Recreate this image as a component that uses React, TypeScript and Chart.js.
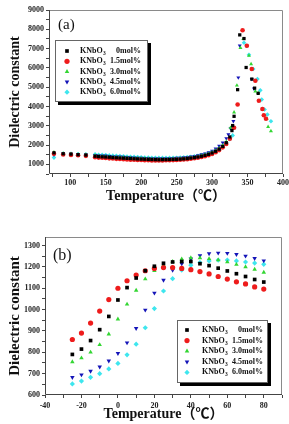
import React, { useEffect, useRef } from 'react';
import { Chart, registerables } from 'chart.js';
import { drawPoint } from 'chart.js/helpers';

Chart.register(...registerables);

const SERIF = '"Liberation Serif", "Times New Roman", serif';
const TITLE_FONT = '"Liberation Serif", "Noto Sans CJK SC", serif';

// Dopant levels, shared by both panels
const molLabels = ['0mol%', '1.5mol%', '3.0mol%', '4.5mol%', '6.0mol%'];
const seriesColors = ['#000000', '#ee1c1c', '#33d633', '#1414b8', '#3ee6ee'];
const seriesShapes = ['rect', 'circle', 'triangle', 'triangle', 'rectRot'];
const seriesRotation = [0, 0, 0, 180, 0];

// ---- Panel (a): 70–400 °C ----
const lowTemps = [
  77, 90, 101, 111, 122, 135, 140, 145, 150, 155, 160, 165, 170, 175, 180, 185, 190, 195, 200, 205, 210, 215,
  220, 225, 230, 235, 240, 245, 250, 255, 260, 265, 270, 275, 280, 285, 290, 295, 300, 305, 310, 315, 320,
];
const lowA0 = [
  1600, 1550, 1530, 1500, 1480, 1420, 1400, 1390, 1380, 1370, 1350, 1340, 1330, 1320, 1310, 1300, 1290, 1280,
  1270, 1265, 1255, 1250, 1245, 1240, 1245, 1245, 1250, 1255, 1260, 1270, 1285, 1300, 1325, 1350, 1380, 1420,
  1465, 1520, 1590, 1680, 1790, 1930, 2120,
];
const lowA1 = [
  1550, 1510, 1490, 1470, 1440, 1370, 1350, 1340, 1330, 1310, 1300, 1285, 1275, 1265, 1255, 1245, 1235, 1230,
  1225, 1215, 1210, 1205, 1205, 1205, 1205, 1210, 1215, 1220, 1230, 1240, 1255, 1270, 1290, 1315, 1345, 1380,
  1420, 1470, 1540, 1630, 1740, 1880, 2060,
];
const lowA2 = [
  1620, 1560, 1540, 1510, 1490, 1450, 1430, 1420, 1410, 1395, 1380, 1370, 1360, 1350, 1340, 1330, 1320, 1310,
  1300, 1295, 1285, 1280, 1275, 1270, 1270, 1275, 1280, 1285, 1290, 1300, 1315, 1330, 1350, 1380, 1410, 1450,
  1495, 1550, 1620, 1710, 1830, 1980, 2170,
];
const lowA3 = [
  1500, 1560, 1545, 1530, 1505, 1480, 1465, 1455, 1445, 1430, 1415, 1405, 1395, 1385, 1370, 1360, 1350, 1340,
  1335, 1325, 1320, 1315, 1310, 1305, 1305, 1310, 1315, 1320, 1330, 1340, 1355, 1375, 1400, 1430, 1465, 1510,
  1560, 1620, 1700, 1810, 1950, 2120, 2350,
];
const lowA4 = [
  1350, 1560, 1550, 1540, 1520, 1520, 1500, 1490, 1480, 1465, 1450, 1440, 1430, 1420, 1405, 1395, 1385, 1375,
  1365, 1355, 1350, 1345, 1340, 1335, 1335, 1335, 1335, 1340, 1345, 1350, 1360, 1375, 1395, 1415, 1445, 1480,
  1520, 1570, 1640, 1720, 1830, 1960, 2130,
];

// Transition region around the Curie peak
const peakTempsA0 = [325, 328, 329, 331, 336, 339, 345, 348, 356, 360, 365];
const peakValsA0 = [2420, 2750, 3010, 3490, 4870, 7710, 7520, 6020, 5420, 4950, 4680];
const peakTempsA1 = [325, 331, 336, 343, 349, 356, 361, 366, 371, 373, 376];
const peakValsA1 = [2330, 2900, 4100, 7950, 7150, 5940, 5330, 4300, 3870, 3545, 3360];
const peakTempsA2 = [326, 331, 335, 340, 344, 352, 355, 361, 365, 371, 377, 379, 383];
const peakValsA2 = [2900, 3700, 5090, 7040, 7500, 6640, 6200, 4780, 4700, 3870, 3360, 2945, 2720];
const peakTempsA3 = [323, 326, 330, 337, 339, 356, 359];
const peakValsA3 = [2550, 2860, 3235, 5500, 7155, 5420, 4920];
const peakTempsA4 = [325, 329, 331, 345, 349, 352, 358, 364, 368, 370, 374, 378, 383];
const peakValsA4 = [2300, 2500, 2900, 7300, 7140, 6675, 5940, 5420, 4835, 4355, 3840, 3580, 3235];

// ---- Panel (b): -25–80 °C ----
const tempsB = [-25, -20, -15, -10, -5, 0, 5, 10, 15, 20, 25, 30, 35, 40, 45, 50, 55, 60, 65, 70, 75, 80];
const valsB0 = [790, 815, 855, 906, 968, 1045, 1103, 1148, 1182, 1203, 1217, 1223, 1225, 1225, 1215, 1206, 1194, 1181, 1168, 1155, 1141, 1129];
const valsB1 = [860, 890, 937, 993, 1047, 1100, 1135, 1162, 1182, 1193, 1197, 1197, 1193, 1187, 1178, 1167, 1155, 1143, 1130, 1120, 1106, 1096];
const valsB2 = [755, 773, 800, 835, 885, 955, 1025, 1090, 1143, 1182, 1208, 1225, 1237, 1242, 1242, 1238, 1232, 1223, 1211, 1200, 1188, 1174];
const valsB3 = [683, 695, 712, 732, 760, 795, 845, 912, 998, 1078, 1138, 1185, 1215, 1238, 1253, 1262, 1265, 1264, 1259, 1251, 1240, 1229];
const valsB4 = [652, 665, 683, 700, 722, 748, 788, 838, 915, 1005, 1087, 1145, 1185, 1208, 1220, 1228, 1232, 1232, 1228, 1223, 1218, 1212];

type Pt = { x: number; y: number };
const pairs = (xs: number[], ys: number[]): Pt[] => xs.map((x, i) => ({ x, y: ys[i] }));

const seriesA: Pt[][] = [
  pairs(lowTemps, lowA0).concat(pairs(peakTempsA0, peakValsA0)),
  pairs(lowTemps, lowA1).concat(pairs(peakTempsA1, peakValsA1)),
  pairs(lowTemps, lowA2).concat(pairs(peakTempsA2, peakValsA2)),
  pairs(lowTemps, lowA3).concat(pairs(peakTempsA3, peakValsA3)),
  pairs(lowTemps, lowA4).concat(pairs(peakTempsA4, peakValsA4)),
];
const seriesB: Pt[][] = [valsB0, valsB1, valsB2, valsB3, valsB4].map((v) => pairs(tempsB, v));

// Frame, panel tag and boxed legend with drop shadow
const decorPlugin = {
  id: 'decor',
  afterDatasetsDraw(chart: any, _args: any, opts: any) {
    const { ctx, chartArea: a } = chart;
    ctx.save();
    ctx.lineWidth = 1;
    ctx.strokeStyle = '#8a8a8a';
    ctx.beginPath();
    ctx.moveTo(a.left, a.top + 0.5);
    ctx.lineTo(a.right - 0.5, a.top + 0.5);
    ctx.lineTo(a.right - 0.5, a.bottom);
    ctx.stroke();
    ctx.strokeStyle = '#444';
    ctx.beginPath();
    ctx.moveTo(a.left + 0.5, a.top);
    ctx.lineTo(a.left + 0.5, a.bottom - 0.5);
    ctx.lineTo(a.right, a.bottom - 0.5);
    ctx.stroke();

    // panel tag
    ctx.fillStyle = '#111';
    ctx.font = `${opts.tagSize}px ${SERIF}`;
    ctx.textAlign = 'left';
    ctx.textBaseline = 'middle';
    ctx.fillText(opts.tag, opts.tagX, opts.tagY);

    // legend
    const L = opts.legend;
    ctx.fillStyle = '#000';
    ctx.fillRect(L.x + 3, L.y + 3, L.w, L.h);
    ctx.fillStyle = '#fff';
    ctx.fillRect(L.x, L.y, L.w, L.h);
    ctx.strokeStyle = '#666';
    ctx.strokeRect(L.x + 0.5, L.y + 0.5, L.w - 1, L.h - 1);
    chart.data.datasets.forEach((ds: any, i: number) => {
      const y = L.rowY + i * L.rowGap;
      ctx.fillStyle = ds.backgroundColor;
      ctx.strokeStyle = ds.borderColor;
      drawPoint(ctx, { pointStyle: ds.pointStyle, rotation: ds.rotation || 0, radius: L.marker, borderWidth: 0 }, L.markerX, y);
      ctx.fillStyle = '#111';
      ctx.textAlign = 'left';
      ctx.textBaseline = 'middle';
      ctx.font = `bold 8px ${SERIF}`;
      ctx.fillText('KNbO', L.textX, y);
      const w = ctx.measureText('KNbO').width;
      ctx.font = `bold 5.5px ${SERIF}`;
      ctx.fillText('3', L.textX + w + 0.3, y + 2.5);
      ctx.font = `bold 8px ${SERIF}`;
      ctx.textAlign = 'right';
      ctx.fillText(molLabels[i], L.textRight, y);
    });
    ctx.restore();
  },
};

function makeDatasets(series: Pt[][], radius: number) {
  return series.map((data, i) => ({
    label: molLabels[i],
    data,
    pointStyle: seriesShapes[i],
    rotation: seriesRotation[i],
    pointRadius: radius,
    pointBorderWidth: 0,
    backgroundColor: seriesColors[i],
    borderColor: seriesColors[i],
    showLine: false,
  }));
}

type AxisSpec = {
  min: number;
  max: number;
  step: number;
  show: (v: number) => boolean;
  size: number;
  titleSize: number;
  titlePad: any;
  labelPad: number;
};

function scaleOpts(spec: AxisSpec, horizontal: boolean, title: string) {
  return {
    type: 'linear',
    min: spec.min,
    max: spec.max,
    border: { display: false },
    grid: { drawOnChartArea: false, drawTicks: true, tickLength: 3, color: '#444', lineWidth: 1 },
    ticks: {
      stepSize: spec.step,
      includeBounds: false,
      autoSkip: false,
      maxRotation: 0,
      padding: spec.labelPad,
      color: '#222',
      font: { family: SERIF, size: 8, weight: 'bold' },
      callback: (v: number) => (spec.show(v) ? String(v) : ''),
    },
    title: {
      display: true,
      text: title,
      color: '#111',
      font: { family: TITLE_FONT, size: spec.titleSize, weight: 'bold', lineHeight: 1 },
      padding: spec.titlePad,
    },
    afterFit: (s: any) => {
      if (horizontal) s.height = spec.size;
      else s.width = spec.size;
      s.paddingLeft = 0;
      s.paddingRight = 0;
      s.paddingTop = 0;
      s.paddingBottom = 0;
    },
  };
}

const configA = () => ({
  type: 'scatter',
  data: { datasets: makeDatasets(seriesA, 2.3) },
  plugins: [decorPlugin],
  options: {
    responsive: false,
    animation: false,
    devicePixelRatio: 1,
    layout: { padding: { top: 10, right: 6, left: 0, bottom: 0 } },
    plugins: {
      legend: { display: false },
      tooltip: { enabled: false },
      decor: {
        tag: '(a)',
        tagSize: 15,
        tagX: 58,
        tagY: 25,
        legend: { x: 55, y: 40, w: 93, h: 62, rowY: 51, rowGap: 10.3, marker: 2.6, markerX: 67, textX: 80, textRight: 141 },
      },
    },
    scales: {
      x: scaleOpts(
        { min: 70, max: 400, step: 25, show: (v) => v % 50 === 0 && v >= 100, size: 38, titleSize: 14, titlePad: { top: 0, bottom: 9 }, labelPad: 1 },
        true,
        'Temperature（℃）'
      ),
      y: scaleOpts(
        { min: 500, max: 9000, step: 500, show: (v) => v % 1000 === 0, size: 49, titleSize: 14, titlePad: { top: 8, bottom: 0 }, labelPad: 2 },
        false,
        'Dielectric constant'
      ),
    },
  },
});

const configB = () => ({
  type: 'scatter',
  data: { datasets: makeDatasets(seriesB, 2.6) },
  plugins: [decorPlugin],
  options: {
    responsive: false,
    animation: false,
    devicePixelRatio: 1,
    layout: { padding: { top: 25, right: 7, left: 0, bottom: 0 } },
    plugins: {
      legend: { display: false },
      tooltip: { enabled: false },
      decor: {
        tag: '(b)',
        tagSize: 16,
        tagX: 53,
        tagY: 44,
        legend: { x: 177, y: 108, w: 91, h: 63, rowY: 118, rowGap: 10.6, marker: 2.6, markerX: 187, textX: 202, textRight: 263 },
      },
    },
    scales: {
      x: scaleOpts(
        { min: -40, max: 90, step: 10, show: (v) => v % 20 === 0 && v <= 80, size: 29, titleSize: 14, titlePad: { top: 0, bottom: 3 }, labelPad: 3 },
        true,
        'Temperature（℃）'
      ),
      y: scaleOpts(
        { min: 600, max: 1340, step: 50, show: (v) => v % 100 === 0, size: 45, titleSize: 15, titlePad: { top: 7.5, bottom: 0 }, labelPad: 2 },
        false,
        'Dielectric constant'
      ),
    },
  },
});

function Panel({ make }: { make: () => any }) {
  const ref = useRef<HTMLCanvasElement>(null);
  useEffect(() => {
    const chart = new Chart(ref.current as HTMLCanvasElement, make());
    return () => chart.destroy();
  }, [make]);
  return <canvas ref={ref} width={289} height={212} style={{ display: 'block', width: 289, height: 212 }} />;
}

export default function App() {
  return (
    <div style={{ position: 'absolute', left: 0, top: 0, width: 289, height: 424, background: '#fff' }}>
      <Panel make={configA} />
      <Panel make={configB} />
    </div>
  );
}
